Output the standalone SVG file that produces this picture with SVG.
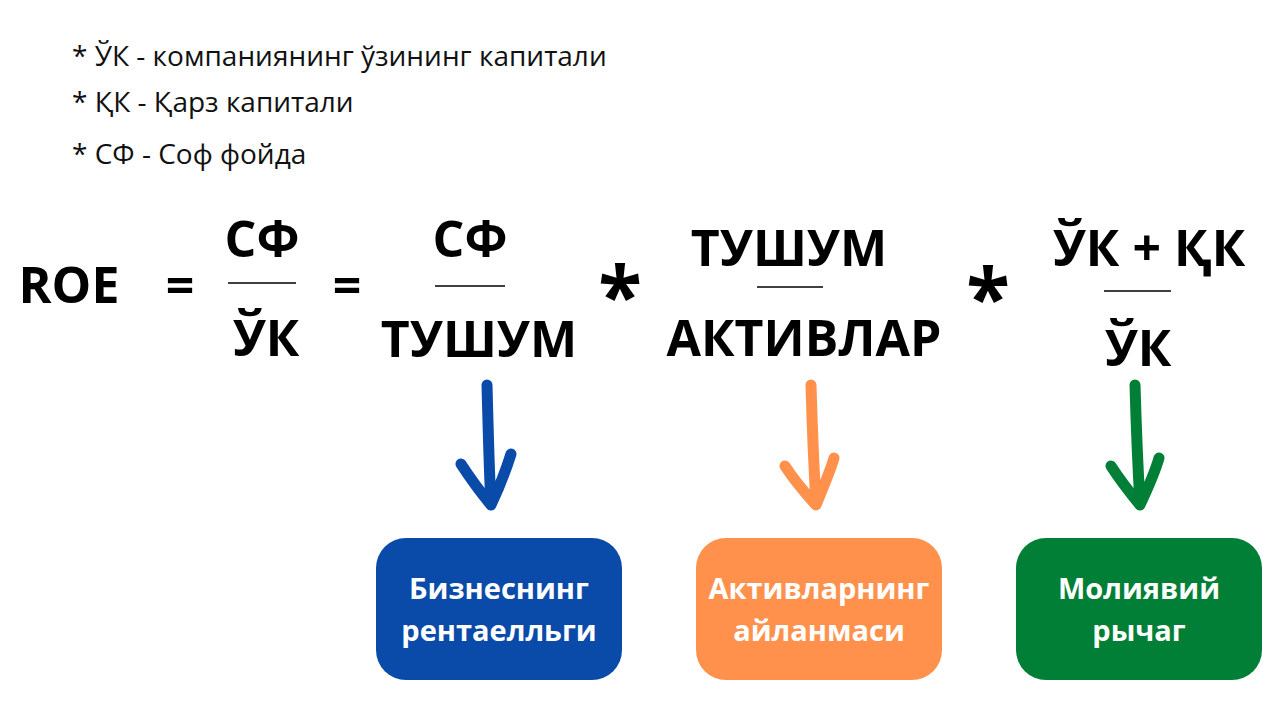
<svg xmlns="http://www.w3.org/2000/svg" width="1280" height="720" viewBox="0 0 1280 720">
<style>
.leg{font-family:"Open Sans","Noto Sans",sans-serif;font-size:28px;fill:#111}
.f{font-family:"Open Sans","Noto Sans",sans-serif;font-weight:700;font-size:50px;fill:#000;text-anchor:middle}
.bar{stroke:#000;stroke-width:1.5}
.bx{font-family:"Open Sans","Noto Sans",sans-serif;font-weight:700;font-size:29px;fill:#fff;text-anchor:middle}
.arr{fill:none;stroke-width:11;stroke-linecap:round;stroke-linejoin:round}
</style>
<rect width="1280" height="720" fill="#fff"/>
<g id="legend">
<text class="leg" x="72" y="66">* ЎК - компаниянинг ўзининг капитали</text>
<text class="leg" x="72" y="112">* ҚК - Қарз капитали</text>
<text class="leg" x="72" y="164">* СФ - Соф фойда</text>
</g>
<g id="formula">
<text class="f" x="69" y="303">ROE</text>
<text class="f" x="180" y="303">=</text>
<text class="f" x="262" y="257">СФ</text>
<line class="bar" x1="228" y1="283" x2="296" y2="283"/>
<text class="f" x="266" y="356">ЎК</text>
<text class="f" x="347" y="303">=</text>
<text class="f" x="470" y="257">СФ</text>
<line class="bar" x1="435" y1="286" x2="505" y2="286"/>
<text class="f" x="479" y="357">ТУШУМ</text>
<text class="f" x="620" y="324" style="font-size:80px">*</text>
<text class="f" x="789" y="266">ТУШУМ</text>
<line class="bar" x1="757" y1="287" x2="823" y2="287"/>
<text class="f" x="804" y="356">АКТИВЛАР</text>
<text class="f" x="988" y="326" style="font-size:80px">*</text>
<text class="f" x="1149" y="266">ЎК + ҚК</text>
<line class="bar" x1="1104" y1="291" x2="1171" y2="291"/>
<text class="f" x="1138" y="366">ЎК</text>
</g>
<g id="connectors">
<path class="arr" stroke="#0a4aa8" d="M487,385 C488,420 489,470 491,504 M461,464 C470,478 482,494 491,505 C498,490 506,470 511,454"/>
<path class="arr" stroke="#ff914d" d="M811,385 C812,420 814,470 816,504 M785,466 C794,480 806,494 816,505 C822,490 830,472 834,458"/>
<path class="arr" stroke="#017f36" d="M1135,385 C1136,420 1138,470 1140,504 M1111,466 C1120,480 1131,494 1140,505 C1147,490 1155,472 1159,458"/>
</g>
<g id="box1">
<rect x="376" y="538" width="246" height="142" rx="30" fill="#0a4aa8"/>
<text class="bx" x="499" y="599">Бизнеснинг</text>
<text class="bx" x="499" y="641">рентаелльги</text>
</g>
<g id="box2">
<rect x="696" y="538" width="246" height="142" rx="30" fill="#ff914d"/>
<text class="bx" x="819" y="599">Активларнинг</text>
<text class="bx" x="819" y="641">айланмаси</text>
</g>
<g id="box3">
<rect x="1016" y="538" width="246" height="142" rx="30" fill="#017f36"/>
<text class="bx" x="1139" y="599">Молиявий</text>
<text class="bx" x="1139" y="641">рычаг</text>
</g>
</svg>
